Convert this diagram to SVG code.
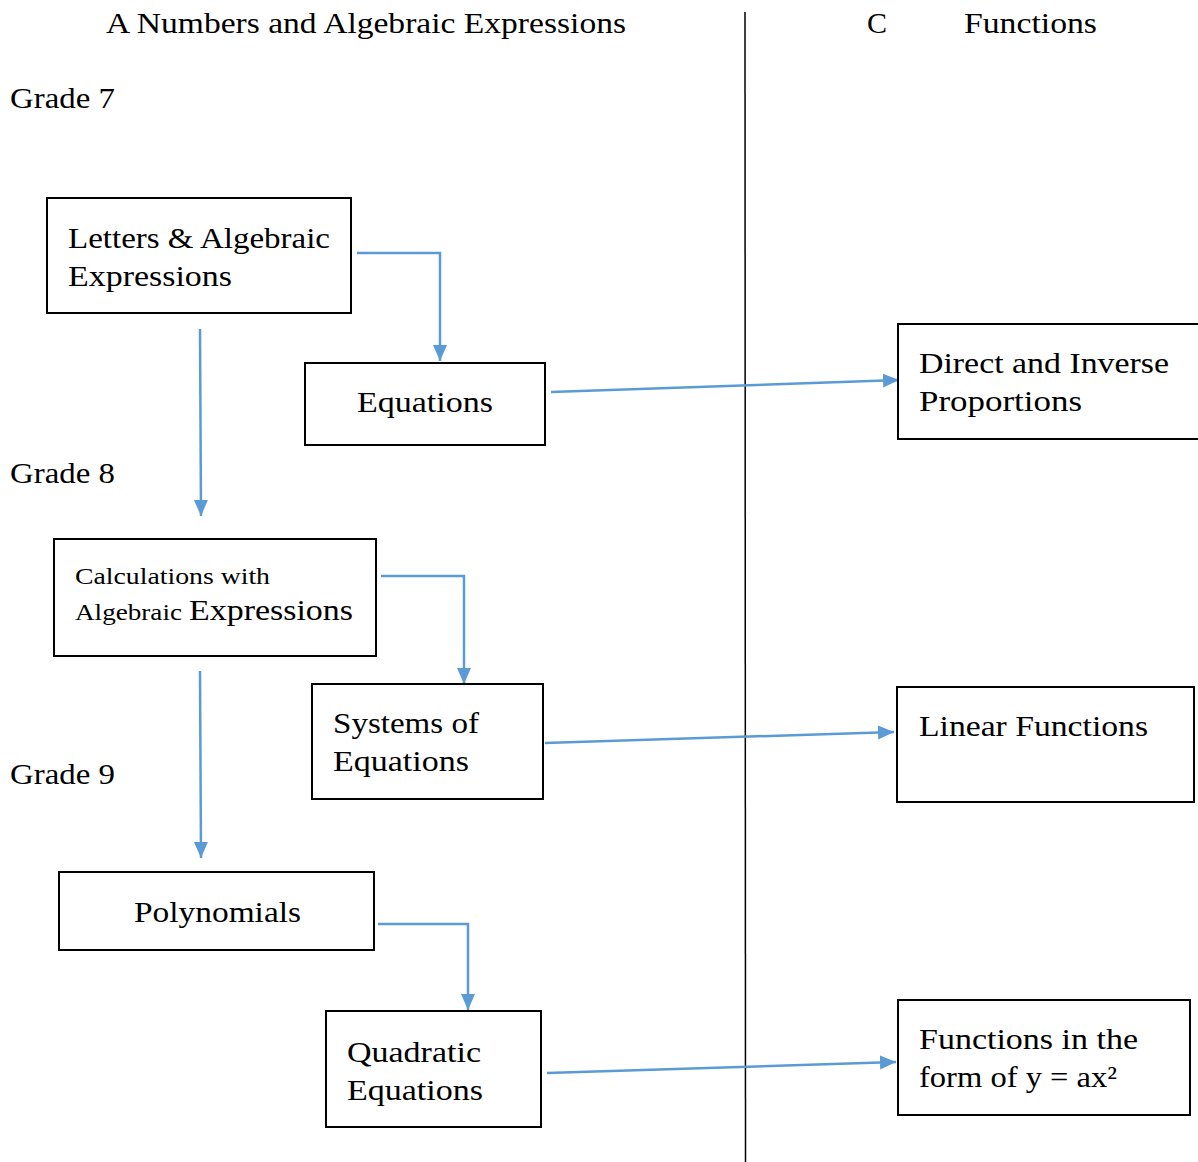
<svg xmlns="http://www.w3.org/2000/svg" width="1198" height="1162" viewBox="0 0 1198 1162">
<style>
text{font-family:"Liberation Serif","DejaVu Serif",serif;font-size:30px;fill:#000}
.s{font-size:24px}
.box{fill:#fff;stroke:#000;stroke-width:2}
.c{fill:none;stroke:#5B9BD5;stroke-width:2.5}
</style>
<defs>
<marker id="ah" markerUnits="userSpaceOnUse" markerWidth="18" markerHeight="18" viewBox="0 0 18 18" refX="16" refY="9" orient="auto">
<path d="M0,2 L16,9 L0,16 Z" fill="#5B9BD5"/>
</marker>
</defs>
<rect width="1198" height="1162" fill="#fff"/>
<g id="headers">
<text x="106" y="33" textLength="520" lengthAdjust="spacingAndGlyphs">A Numbers and Algebraic Expressions</text>
<text x="867" y="33">C</text>
<text x="964" y="33" textLength="133" lengthAdjust="spacingAndGlyphs">Functions</text>
<text x="10" y="108" textLength="105" lengthAdjust="spacingAndGlyphs">Grade 7</text>
<text x="10" y="483" textLength="105" lengthAdjust="spacingAndGlyphs">Grade 8</text>
<text x="10" y="784" textLength="105" lengthAdjust="spacingAndGlyphs">Grade 9</text>
</g>
<line id="divider" x1="745" y1="12" x2="745.5" y2="1162" stroke="#000" stroke-width="1.5"/>
<g id="connectors">
<path class="c" d="M357,253 H440 V361" marker-end="url(#ah)"/>
<path class="c" d="M200,329 L201,516" marker-end="url(#ah)"/>
<path class="c" d="M551,392 L899,380" marker-end="url(#ah)"/>
<path class="c" d="M381,576 H464 V684" marker-end="url(#ah)"/>
<path class="c" d="M200,671 L201,858" marker-end="url(#ah)"/>
<path class="c" d="M545,743 L894,732" marker-end="url(#ah)"/>
<path class="c" d="M378,924 H468 V1010" marker-end="url(#ah)"/>
<path class="c" d="M547,1073 L896,1062" marker-end="url(#ah)"/>
</g>
<g id="n-letters">
<rect class="box" x="47" y="198" width="304" height="115"/>
<text x="68" y="248" textLength="262" lengthAdjust="spacingAndGlyphs">Letters &amp; Algebraic</text>
<text x="68" y="286" textLength="164" lengthAdjust="spacingAndGlyphs">Expressions</text>
</g>
<g id="n-equations">
<rect class="box" x="305" y="363" width="240" height="82"/>
<text x="357" y="412" textLength="136" lengthAdjust="spacingAndGlyphs">Equations</text>
</g>
<g id="n-direct">
<rect class="box" x="898" y="324" width="310" height="115"/>
<text x="919" y="373" textLength="250" lengthAdjust="spacingAndGlyphs">Direct and Inverse</text>
<text x="919" y="411" textLength="163" lengthAdjust="spacingAndGlyphs">Proportions</text>
</g>
<g id="n-calc">
<rect class="box" x="54" y="539" width="322" height="117"/>
<text class="s" x="75" y="584" textLength="195" lengthAdjust="spacingAndGlyphs">Calculations with</text>
<text class="s" x="75" y="620" textLength="107" lengthAdjust="spacingAndGlyphs">Algebraic</text>
<text x="189" y="620" textLength="164" lengthAdjust="spacingAndGlyphs">Expressions</text>
</g>
<g id="n-systems">
<rect class="box" x="312" y="684" width="231" height="115"/>
<text x="333" y="733" textLength="146" lengthAdjust="spacingAndGlyphs">Systems of</text>
<text x="333" y="771" textLength="136" lengthAdjust="spacingAndGlyphs">Equations</text>
</g>
<g id="n-linear">
<rect class="box" x="897" y="687" width="297" height="115"/>
<text x="919" y="736" textLength="229" lengthAdjust="spacingAndGlyphs">Linear Functions</text>
</g>
<g id="n-poly">
<rect class="box" x="59" y="872" width="315" height="78"/>
<text x="134" y="922" textLength="167" lengthAdjust="spacingAndGlyphs">Polynomials</text>
</g>
<g id="n-quadratic">
<rect class="box" x="326" y="1011" width="215" height="116"/>
<text x="347" y="1062" textLength="134" lengthAdjust="spacingAndGlyphs">Quadratic</text>
<text x="347" y="1100" textLength="136" lengthAdjust="spacingAndGlyphs">Equations</text>
</g>
<g id="n-functions">
<rect class="box" x="898" y="1000" width="292" height="115"/>
<text x="919" y="1049" textLength="219" lengthAdjust="spacingAndGlyphs">Functions in the</text>
<text x="919" y="1087" textLength="198" lengthAdjust="spacingAndGlyphs">form of y = ax²</text>
</g>
</svg>
